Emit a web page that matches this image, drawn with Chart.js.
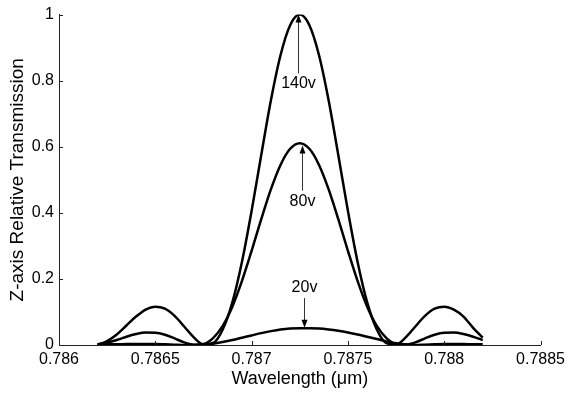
<!DOCTYPE html>
<html>
<head>
<meta charset="utf-8">
<script src="https://cdn.jsdelivr.net/npm/chart.js@4/dist/chart.umd.min.js"></script>
<style>
  body { margin: 0; background: #fff; }
</style>
</head>
<body>
<canvas id="canvas" width="570" height="393"></canvas>
<script>
let ctx = document.getElementById('canvas').getContext('2d');

// wavelength in um
const wavelength = [
  0.78620, 0.78625, 0.78630, 0.78635, 0.78640, 0.78645, 0.78650, 0.78655, 0.78660, 0.78665,
  0.78670, 0.78675, 0.78680, 0.78685, 0.78690, 0.78695, 0.78700, 0.78705, 0.78710, 0.78715,
  0.78720, 0.78725, 0.78730, 0.78735, 0.78740, 0.78745, 0.78750, 0.78755, 0.78760, 0.78765,
  0.78770, 0.78775, 0.78780, 0.78785, 0.78790, 0.78795, 0.78800, 0.78805, 0.78810, 0.78815,
  0.78820
];

const t140 = [
  0.001, 0.012, 0.032, 0.059, 0.086, 0.107, 0.116, 0.110, 0.088, 0.056,
  0.023, 0.002, 0.006, 0.047, 0.129, 0.252, 0.406, 0.575, 0.740, 0.877,
  0.968, 1.000, 0.968, 0.877, 0.740, 0.575, 0.406, 0.252, 0.129, 0.047,
  0.006, 0.002, 0.023, 0.056, 0.088, 0.110, 0.116, 0.107, 0.086, 0.052,
  0.022
];

const t80 = [
  0.002, 0.007, 0.015, 0.025, 0.033, 0.0375, 0.037, 0.031, 0.020, 0.008,
  0.001, 0.003, 0.021, 0.058, 0.116, 0.194, 0.285, 0.381, 0.471, 0.545,
  0.594, 0.611, 0.594, 0.545, 0.471, 0.381, 0.285, 0.194, 0.116, 0.058,
  0.021, 0.003, 0.001, 0.008, 0.020, 0.031, 0.037, 0.0375, 0.033, 0.025,
  0.015
];

const t20 = [
  0.001, 0.002, 0.002, 0.003, 0.003, 0.003, 0.003, 0.002, 0.001, 0.000,
  0.000, 0.001, 0.004, 0.009, 0.015, 0.022, 0.029, 0.036, 0.042, 0.047,
  0.050, 0.051, 0.051, 0.050, 0.047, 0.043, 0.038, 0.032, 0.025, 0.018,
  0.011, 0.005, 0.002, 0.000, 0.001, 0.002, 0.003, 0.003, 0.003, 0.002,
  0.002
];

const xTicks = [0.786, 0.7865, 0.787, 0.7875, 0.788, 0.7885];
const yTicks = [0, 0.2, 0.4, 0.6, 0.8, 1];

// label text, x, label y, arrow from y, arrow to y (data units)
const notes = [
  ['140v', 0.78724, 0.792, 0.822, 1.0],
  ['80v', 0.78726, 0.434, 0.467, 0.604],
  ['20v', 0.78727, 0.175, 0.142, 0.052]
];

const FONT = '"Liberation Sans", Arial, sans-serif';

function series(values) {
  return values.map((v, i) => ({ x: wavelength[i], y: v }));
}

function lineSet(label, values) {
  return {
    label: label,
    data: series(values),
    borderColor: '#000',
    borderWidth: 2.5,
    pointRadius: 0,
    fill: false,
    cubicInterpolationMode: 'monotone'
  };
}

const tickMarks = {
  id: 'tickMarks',
  afterDraw(chart) {
    const c = chart.ctx;
    const x = chart.scales.x, y = chart.scales.y;
    c.save();
    c.strokeStyle = '#222';
    c.lineWidth = 1;
    c.beginPath();
    xTicks.forEach(v => {
      const px = Math.round(x.getPixelForValue(v)) + 0.5;
      c.moveTo(px, y.bottom);
      c.lineTo(px, y.bottom - 4);
    });
    yTicks.forEach(v => {
      const py = Math.round(y.getPixelForValue(v)) + 0.5;
      c.moveTo(x.left, py);
      c.lineTo(x.left + 4, py);
    });
    c.stroke();
    c.restore();
  }
};

const arrows = {
  id: 'arrows',
  afterDatasetsDraw(chart) {
    const c = chart.ctx;
    const x = chart.scales.x, y = chart.scales.y;
    c.save();
    c.fillStyle = '#000';
    c.strokeStyle = '#333';
    c.lineWidth = 1;
    c.font = '16px ' + FONT;
    c.textAlign = 'center';
    c.textBaseline = 'middle';
    notes.forEach(n => {
      const px = Math.round(x.getPixelForValue(n[1])) + 0.5;
      c.fillText(n[0], px, y.getPixelForValue(n[2]));
      const y0 = y.getPixelForValue(n[3]);
      const y1 = y.getPixelForValue(n[4]);
      const dir = y1 < y0 ? 1 : -1;
      c.beginPath();
      c.moveTo(px, y0);
      c.lineTo(px, y1 + dir * 6);
      c.stroke();
      c.beginPath();
      c.moveTo(px, y1);
      c.lineTo(px - 3, y1 + dir * 8);
      c.lineTo(px + 3, y1 + dir * 8);
      c.closePath();
      c.fill();
    });
    c.restore();
  }
};

const data = {
  datasets: [
    lineSet('140v', t140),
    lineSet('80v', t80),
    lineSet('20v', t20)
  ]
};

const options = {
  responsive: false,
  animation: false,
  layout: {
    padding: { top: 13, right: 27, left: 0, bottom: 0 }
  },
  plugins: {
    legend: { display: false },
    tooltip: { enabled: false }
  },
  scales: {
    x: {
      type: 'linear',
      min: 0.786,
      max: 0.7885,
      afterBuildTicks: s => { s.ticks = xTicks.map(v => ({ value: v })); },
      afterFit: s => { s.height = 48; },
      grid: { display: false, drawTicks: false },
      border: { display: true, color: '#222', width: 1 },
      ticks: {
        color: '#000',
        padding: 5,
        maxRotation: 0,
        font: { family: FONT, size: 16 },
        callback: v => String(Number(v.toFixed(4)))
      },
      title: {
        display: true,
        text: 'Wavelength (\u03bcm)',
        color: '#000',
        font: { family: FONT, size: 18 },
        padding: { top: 0, bottom: 3 }
      }
    },
    y: {
      min: 0,
      max: 1,
      afterBuildTicks: s => { s.ticks = yTicks.map(v => ({ value: v })); },
      afterFit: s => { s.width = 59; },
      grid: { display: false, drawTicks: false },
      border: { display: true, color: '#222', width: 1 },
      ticks: {
        color: '#000',
        padding: 5,
        font: { family: FONT, size: 16 },
        callback: v => String(Number(v.toFixed(1)))
      },
      title: {
        display: true,
        text: 'Z-axis Relative Transmission',
        color: '#000',
        font: { family: FONT, size: 19 },
        padding: { top: 6, bottom: 0 }
      }
    }
  }
};

function init() {
  let chart = new Chart(ctx, {
    type: 'line',
    data: data,
    options: options,
    plugins: [tickMarks, arrows]
  });
}

init();
</script>
</body>
</html>
